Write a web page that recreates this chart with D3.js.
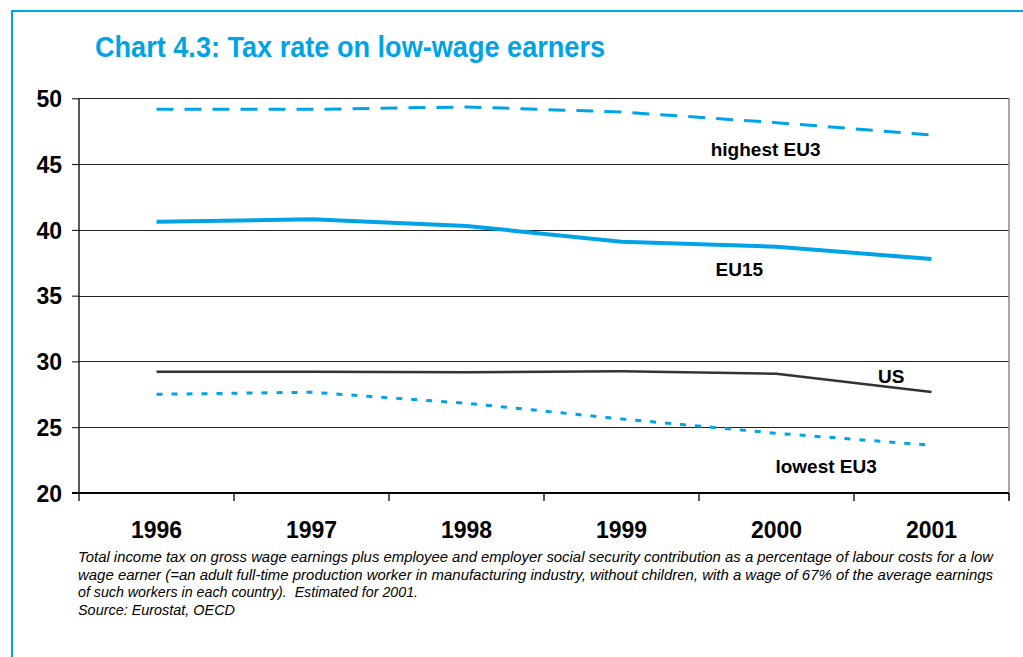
<!DOCTYPE html>
<html>
<head>
<meta charset="utf-8">
<script src="https://cdn.jsdelivr.net/npm/d3@7"></script>
<style>
  html, body { margin: 0; padding: 0; background: #fff; }
  svg { display: block; }
</style>
</head>
<body>
<svg id="chart" width="1023" height="657"></svg>
<script>
// ---- data ----
const years = ["1996", "1997", "1998", "1999", "2000", "2001"];
const highestEU3 = [49.16, 49.16, 49.34, 48.96, 48.15, 47.21];
const eu15       = [40.62, 40.80, 40.30, 39.10, 38.72, 37.79];
const us         = [29.22, 29.22, 29.18, 29.25, 29.07, 27.68];
const lowestEU3  = [27.50, 27.66, 26.82, 25.63, 24.54, 23.63];
const yTicks = [20, 25, 30, 35, 40, 45, 50];
const seriesNames = ["highest EU3", "EU15", "US", "lowest EU3"];
// label anchors in data space: [fractional year, value]
const labelYear  = [1999.93, 1999.76, 2000.74, 2000.32];
const labelValue = [45.62, 36.52, 28.39, 21.53];
const title = "Chart 4.3: Tax rate on low-wage earners";
const notes = [
  "Total income tax on gross wage earnings plus employee and employer social security contribution as a percentage of labour costs for a low",
  "wage earner (=an adult full-time production worker in manufacturing industry, without children, with a wage of 67% of the average earnings",
  "of such workers in each country).  Estimated for 2001.",
  "Source: Eurostat, OECD"
];

// ---- layout ----
const BLUE = "#00a3e6";
const svg = d3.select("#chart");
const L = 79, R = 1009, T = 98.3, B = 493;

const x = d3.scaleBand().domain(years).range([L, R]).padding(0);
const xc = d => x(d) + x.bandwidth() / 2;
const xl = d3.scaleLinear().domain([1996, 2001]).range([xc("1996"), xc("2001")]);
const y = d3.scaleLinear().domain([20, 50]).range([B, T]);

// frame
svg.append("rect").attr("x", 12).attr("y", 11).attr("width", 1100).attr("height", 700)
  .attr("fill", "none").attr("stroke", BLUE).attr("stroke-width", 2);

// title
svg.append("text").attr("x", 95).attr("y", 57)
  .attr("font-family", "'Liberation Sans Narrow', 'Liberation Sans', Arial, sans-serif")
  .attr("font-weight", "bold").attr("font-size", 29).attr("fill", BLUE)
  .attr("textLength", 510).attr("lengthAdjust", "spacingAndGlyphs")
  .text(title);

// gridlines
svg.append("g").selectAll("line").data(yTicks.filter(t => t > 20)).join("line")
  .attr("x1", L).attr("x2", R)
  .attr("y1", d => Math.round(y(d)) + 0.5).attr("y2", d => Math.round(y(d)) + 0.5)
  .attr("stroke", "#222").attr("stroke-width", 1);

// right border
svg.append("line").attr("x1", R).attr("x2", R).attr("y1", T).attr("y2", B + 7)
  .attr("stroke", "#8a8a8a").attr("stroke-width", 1.5);

// y axis
const yAxis = d3.axisLeft(y).tickValues(yTicks).tickSize(7).tickPadding(10).tickFormat(d3.format("d"));
const gy = svg.append("g").attr("transform", `translate(${L},0)`).call(yAxis);
gy.select(".domain").attr("stroke", "#000").attr("stroke-width", 1.3)
  .attr("d", `M0,${T}V${B + 8}`);
gy.selectAll(".tick line").attr("stroke", "#000");
gy.selectAll(".tick text")
  .attr("font-family", "'Liberation Sans', Arial, sans-serif")
  .attr("font-weight", "bold").attr("font-size", 23).attr("fill", "#000")
  .attr("dy", "0.36em");

// x axis
const xAxis = d3.axisBottom(x).tickSize(0).tickPadding(29);
const gx = svg.append("g").attr("transform", `translate(0,${B})`).call(xAxis);
gx.select(".domain").attr("stroke", "#000").attr("stroke-width", 1.8)
  .attr("d", `M${L - 7},0H${R}`);
gx.selectAll(".tick text")
  .attr("font-family", "'Liberation Sans', Arial, sans-serif")
  .attr("font-weight", "bold").attr("font-size", 23).attr("fill", "#000");
// boundary ticks
const bounds = years.map(d => x(d)).concat([R]);
svg.append("g").selectAll("line").data(bounds.slice(1)).join("line")
  .attr("x1", d => d).attr("x2", d => d).attr("y1", B).attr("y2", B + 8)
  .attr("stroke", "#000").attr("stroke-width", 1.3);

// lines
const line = d3.line().x((d, i) => xc(years[i])).y(d => y(d));
const styles = [
  { data: highestEU3, color: BLUE, width: 3, dash: "17,11" },
  { data: eu15, color: BLUE, width: 4, dash: null },
  { data: us, color: "#333", width: 2.5, dash: null },
  { data: lowestEU3, color: BLUE, width: 3, dash: "6,9" }
];
svg.append("g").selectAll("path").data(styles).join("path")
  .attr("d", s => line(s.data))
  .attr("fill", "none")
  .attr("stroke", s => s.color)
  .attr("stroke-width", s => s.width)
  .attr("stroke-dasharray", s => s.dash)
  .attr("stroke-linejoin", "round");

// series labels
svg.append("g").selectAll("text").data(seriesNames).join("text")
  .attr("x", (d, i) => xl(labelYear[i]))
  .attr("y", (d, i) => y(labelValue[i]))
  .attr("text-anchor", "middle")
  .attr("font-family", "'Liberation Sans', Arial, sans-serif")
  .attr("font-weight", "bold").attr("font-size", 19).attr("fill", "#000")
  .text(d => d);

// footnotes
const noteW = [915, 915, 340, 157];
const noteY = [562, 579.5, 597, 614.5];
svg.append("g").selectAll("text").data(notes).join("text")
  .attr("x", 78).attr("y", (d, i) => noteY[i])
  .attr("font-family", "'Liberation Sans Narrow', 'Liberation Sans', Arial, sans-serif")
  .attr("font-style", "italic").attr("font-size", 14).attr("fill", "#000")
  .attr("textLength", (d, i) => noteW[i]).attr("lengthAdjust", "spacingAndGlyphs")
  .style("white-space", "pre")
  .text(d => d);
</script>
</body>
</html>
